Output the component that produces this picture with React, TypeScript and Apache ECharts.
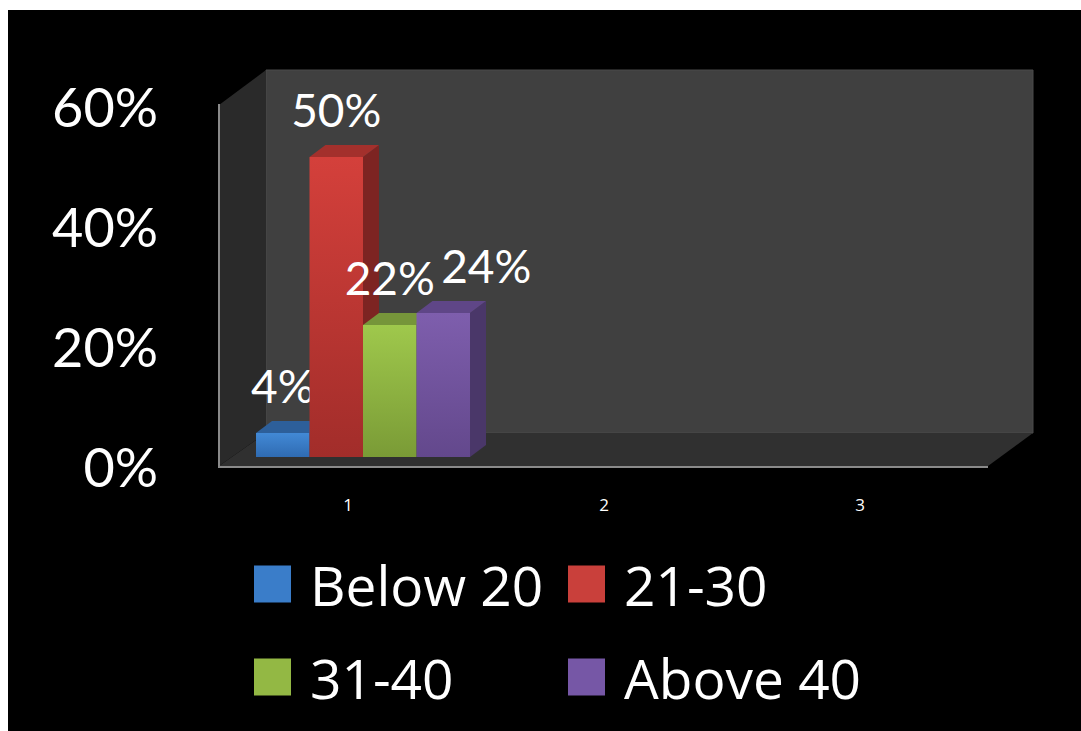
import React, { useEffect, useRef } from 'react';
import * as echarts from 'echarts';

const categories = ['1', '2', '3'];
const seriesNames = ['Below 20', '21-30', '31-40', 'Above 40'];
const below20: (number | null)[] = [4, null, null];
const age21to30: (number | null)[] = [50, null, null];
const age31to40: (number | null)[] = [22, null, null];
const above40: (number | null)[] = [24, null, null];
const yMin = 0;
const yMax = 60;
const yStep = 20;

const seriesValues = [below20, age21to30, age31to40, above40];

const FONT = 'Lato, "Open Sans", sans-serif';
const LEGEND_FONT = '"Open Sans", Lato, sans-serif';

const PAL = [
  { front: ['#4289d6', '#2f6bb2'], top: '#2d5f9a', side: '#234b7c', base: '#3a7dc9' },
  { front: ['#d4403b', '#a22d2a'], top: '#a3302c', side: '#7d2422', base: '#c9403b' },
  { front: ['#9fc84c', '#7a9b36'], top: '#76953a', side: '#5d772d', base: '#93b844' },
  { front: ['#7e5ead', '#63488c'], top: '#5f4687', side: '#4a3769', base: '#7657a6' },
];

const BAR_W = 53.5;
const BAR_DX = 16;
const BAR_DY = -12;
const LABEL_DX = [0, 0, 0, 43];

export default function App() {
  const ref = useRef<HTMLDivElement>(null);
  useEffect(() => {
    if (!ref.current) return;
    const chart = echarts.init(ref.current, null, { renderer: 'svg' });

    const series: any[] = seriesValues.map((vals, si) => ({
      type: 'custom',
      name: seriesNames[si],
      xAxisIndex: 1,
      yAxisIndex: 1,
      itemStyle: { color: PAL[si].base },
      data: vals.map((v, i) => [i, v == null ? NaN : v]),
      renderItem: (params: any, api: any) => {
        const cat = api.value(0);
        const v = api.value(1);
        if (v == null || isNaN(v)) return null;
        const base = api.coord([cat, 0]);
        const top = api.coord([cat, v]);
        const xl = base[0] - 2 * BAR_W + si * BAR_W + 2;
        const xr = xl + BAR_W;
        const yb = base[1];
        const yt = top[1];
        const p = PAL[si];
        return {
          type: 'group',
          children: [
            {
              type: 'polygon',
              shape: { points: [[xr, yt], [xr + BAR_DX, yt + BAR_DY], [xr + BAR_DX, yb + BAR_DY], [xr, yb]] },
              style: { fill: p.side },
            },
            {
              type: 'polygon',
              shape: { points: [[xl, yt], [xl + BAR_DX, yt + BAR_DY], [xr + BAR_DX, yt + BAR_DY], [xr, yt]] },
              style: { fill: p.top },
            },
            {
              type: 'rect',
              shape: { x: xl, y: yt, width: BAR_W, height: yb - yt },
              style: {
                fill: new echarts.graphic.LinearGradient(0, 0, 0, 1, [
                  { offset: 0, color: p.front[0] },
                  { offset: 1, color: p.front[1] },
                ]),
              },
            },
            {
              type: 'text',
              style: {
                text: v + '%',
                x: (xl + xr) / 2 + LABEL_DX[si],
                y: yt + BAR_DY - 13,
                align: 'center',
                verticalAlign: 'bottom',
                fill: '#ffffff',
                fontSize: 46,
                fontFamily: FONT,
              },
            },
          ],
        };
      },
    }));

    const legendCommon = {
      orient: 'vertical',
      top: 556,
      padding: 0,
      itemGap: 37,
      itemWidth: 37,
      itemHeight: 37,
      icon: 'rect',
      selectedMode: false,
      textStyle: { color: '#ffffff', fontSize: 55, fontFamily: LEGEND_FONT, lineHeight: 56, padding: [0, 0, 0, 14] },
    };

    chart.setOption({
      animation: false,
      backgroundColor: '#ffffff',
      graphic: [
        { type: 'rect', shape: { x: 8, y: 10, width: 1073, height: 721 }, style: { fill: '#000000' }, z: -10 },
        { type: 'rect', shape: { x: 266, y: 70, width: 767, height: 363 }, style: { fill: '#404040', stroke: '#4a4a4a', lineWidth: 1 }, z: -9 },
        { type: 'polygon', shape: { points: [[219, 105], [266, 70], [266, 433], [219, 466]] }, style: { fill: '#2a2a2a' }, z: -9 },
        { type: 'polygon', shape: { points: [[219, 466], [266, 433], [1033, 433], [988, 466]] }, style: { fill: '#303030' }, z: -9 },
        { type: 'line', shape: { x1: 219, y1: 104, x2: 219, y2: 467 }, style: { stroke: '#8a8a8a', lineWidth: 2 }, z: -8 },
        { type: 'line', shape: { x1: 218, y1: 467, x2: 988, y2: 467 }, style: { stroke: '#8a8a8a', lineWidth: 2 }, z: -8 },
      ],
      grid: [
        { left: 220, top: 106, width: 768, height: 360 },
        { left: 233, top: 97, width: 768, height: 360 },
      ],
      xAxis: [
        {
          type: 'category',
          gridIndex: 0,
          data: categories,
          axisLine: { show: false },
          axisTick: { show: false },
          axisLabel: { color: '#ffffff', fontSize: 17, fontFamily: LEGEND_FONT, margin: 30 },
        },
        {
          type: 'category',
          gridIndex: 1,
          data: categories,
          show: false,
        },
      ],
      yAxis: [
        {
          type: 'value',
          gridIndex: 0,
          min: yMin,
          max: yMax,
          interval: yStep,
          axisLine: { show: false },
          axisTick: { show: false },
          splitLine: { show: false },
          axisLabel: {
            color: '#ffffff',
            fontSize: 54,
            fontFamily: FONT,
            margin: 62,
            formatter: '{value}%',
            padding: [10, 0, 0, 0],
          },
        },
        {
          type: 'value',
          gridIndex: 1,
          min: yMin,
          max: yMax,
          interval: yStep,
          show: false,
        },
      ],
      legend: [
        { ...legendCommon, left: 254, data: [seriesNames[0], seriesNames[2]] },
        { ...legendCommon, left: 568, data: [seriesNames[1], seriesNames[3]] },
      ],
      series,
    });
    return () => chart.dispose();
  }, []);

  return (
    <div style={{ position: 'fixed', left: 0, top: 0, width: 1081, height: 731 }}>
      <div ref={ref} style={{ width: 1081, height: 731 }} />
    </div>
  );
}
